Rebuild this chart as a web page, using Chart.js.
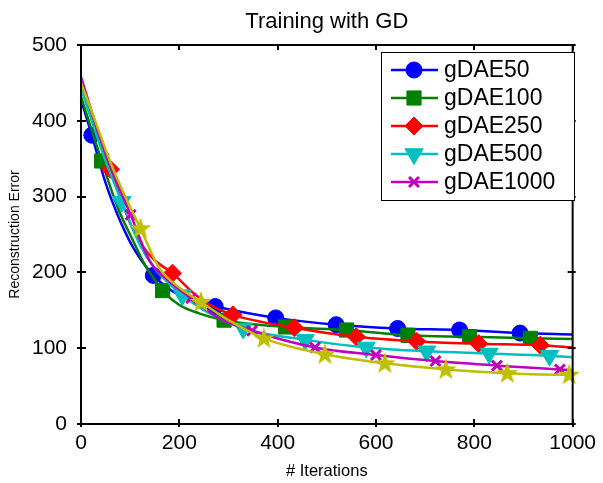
<!DOCTYPE html>
<html>
<head>
<meta charset="utf-8">
<title>Training with GD</title>
<script src="https://cdn.jsdelivr.net/npm/chart.js@4.4.1/dist/chart.umd.min.js"></script>
<style>
  html, body { margin: 0; padding: 0; background: #fff; }
</style>
</head>
<body>
<canvas id="gd-chart" width="603" height="483"></canvas>
<script>
const chartTitle = "Training with GD";
const xTicks = [0, 200, 400, 600, 800, 1000];
const yTicks = [0, 100, 200, 300, 400, 500];

// gDAE50
const blueX = [0, 22, 50, 75, 100, 125, 147, 175, 200, 230, 273, 396, 519, 644, 770, 893, 1000];
const blueY = [428, 381, 318, 275, 240, 214, 196, 180, 170, 162, 155, 140, 131, 126, 124, 120, 118];
const blueMarks = [22, 147, 273, 396, 519, 644, 770, 893];

// gDAE100
const greenX = [0, 42, 75, 105, 130, 150, 166, 200, 240, 291, 416, 540, 665, 790, 914, 1000];
const greenY = [432, 347, 285, 243, 210, 190, 176, 157, 146, 137, 128, 124, 117, 115, 113, 112];
const greenMarks = [42, 166, 291, 416, 540, 665, 790, 914];

// gDAE250
const redX = [0, 30, 60, 100, 125, 150, 186, 230, 260, 309, 434, 560, 683, 809, 934, 1000];
const redY = [445, 392, 336, 265, 235, 216, 199, 172, 158, 144, 127, 115, 109, 106, 104, 101];
const redMarks = [60, 186, 309, 434, 560, 683, 809, 934];

// gDAE500
const cyanX = [0, 40, 60, 83, 120, 150, 175, 206, 250, 280, 330, 456, 580, 703, 830, 953, 1000];
const cyanY = [443, 365, 330, 293, 236, 205, 188, 170, 150, 140, 126, 111, 101, 96, 93, 90, 88];
const cyanMarks = [83, 206, 330, 456, 580, 703, 830, 953];

// gDAE1000
const magentaX = [0, 30, 60, 101, 140, 180, 224, 280, 348, 476, 600, 721, 846, 974, 1000];
const magentaY = [458, 395, 340, 276, 215, 188, 166, 140, 123, 101, 91, 83, 77, 72, 71];
const magentaMarks = [101, 224, 348, 476, 600, 721, 846, 974];

// unlabelled yellow curve (not in legend)
const yellowX = [0, 30, 60, 90, 121, 160, 200, 244, 300, 372, 496, 618, 742, 867, 993, 1000];
const yellowY = [450, 398, 345, 300, 258, 205, 180, 161, 137, 113, 92, 80, 72, 67, 65, 65];
const yellowMarks = [121, 244, 372, 496, 618, 742, 867, 993];

const FONT = "'Liberation Sans', Arial, sans-serif";

function makeStar(color) {
  const c = document.createElement("canvas");
  c.width = 24;
  c.height = 24;
  const g = c.getContext("2d");
  g.beginPath();
  for (let i = 0; i < 10; i++) {
    const r = i % 2 === 0 ? 11.5 : 4.6;
    const a = -Math.PI / 2 + (i * Math.PI) / 5;
    g.lineTo(12 + r * Math.cos(a), 12.5 + r * Math.sin(a));
  }
  g.closePath();
  g.fillStyle = color;
  g.fill();
  return c;
}

function series(label, xs, ys, marks, color, style, radius, extra) {
  return Object.assign({
    label: label,
    data: xs.map((x, i) => ({ x: x, y: ys[i] })),
    borderColor: color,
    backgroundColor: color,
    borderWidth: 2.5,
    pointStyle: style,
    markRadius: radius,
    pointRadius: (ctx) => (ctx.raw && marks.includes(ctx.raw.x) ? radius : 0),
    pointHoverRadius: (ctx) => (ctx.raw && marks.includes(ctx.raw.x) ? radius : 0),
    pointBorderWidth: 1,
    cubicInterpolationMode: "monotone",
    clip: false,
  }, extra || {});
}

const datasets = [
  series("gDAE50", blueX, blueY, blueMarks, "#0000ff", "circle", 8, { order: 6 }),
  series("gDAE100", greenX, greenY, greenMarks, "#008000", "rect", 10, { order: 5 }),
  series("gDAE250", redX, redY, redMarks, "#ff0000", "rectRot", 9, { order: 4 }),
  series("gDAE500", cyanX, cyanY, cyanMarks, "#00bfbf", "triangle", 10.5, { order: 3, pointRotation: 180 }),
  series("gDAE1000", magentaX, magentaY, magentaMarks, "#bf00bf", "crossRot", 7, { order: 2, pointBorderWidth: 3 }),
  series("", yellowX, yellowY, yellowMarks, "#bfbf00", makeStar("#bfbf00"), 10, { order: 1 }),
];

// MATLAB style box, ticks and title centred on the axes
const boxTicks = {
  id: "boxTicks",
  afterDatasetsDraw(chart) {
    const { ctx, chartArea: a, scales } = chart;
    ctx.save();
    ctx.strokeStyle = "#000";
    ctx.lineWidth = 2;
    ctx.strokeRect(a.left, a.top, a.right - a.left, a.bottom - a.top);
    ctx.beginPath();
    xTicks.forEach((v) => {
      const px = Math.round(scales.x.getPixelForValue(v));
      ctx.moveTo(px, a.bottom + 3);
      ctx.lineTo(px, a.bottom - 5);
      ctx.moveTo(px, a.top);
      ctx.lineTo(px, a.top + 5);
    });
    yTicks.forEach((v) => {
      const py = Math.round(scales.y.getPixelForValue(v));
      ctx.moveTo(a.left - 4, py);
      ctx.lineTo(a.left + 5, py);
      ctx.moveTo(a.right + 3, py);
      ctx.lineTo(a.right - 5, py);
    });
    ctx.stroke();
    ctx.fillStyle = "#000";
    ctx.font = "22px " + FONT;
    ctx.textAlign = "center";
    ctx.textBaseline = "alphabetic";
    ctx.fillText(chartTitle, (a.left + a.right) / 2, 28);
    ctx.restore();
  },
};

// legend box: line with marker in the middle
const lineLegend = {
  id: "lineLegend",
  afterDraw(chart) {
    const { ctx } = chart;
    const left = 381, top = 52, w = 193, h = 148;
    ctx.save();
    ctx.fillStyle = "#fff";
    ctx.fillRect(left, top, w, h);
    ctx.strokeStyle = "#000";
    ctx.lineWidth = 1;
    ctx.strokeRect(left + 0.5, top + 0.5, w, h);
    ctx.font = "23px " + FONT;
    ctx.textBaseline = "middle";
    chart.data.datasets.slice(0, 5).forEach((ds, i) => {
      const y = 70 + i * 28;
      ctx.strokeStyle = ds.borderColor;
      ctx.lineWidth = 2.5;
      ctx.beginPath();
      ctx.moveTo(391, y);
      ctx.lineTo(438, y);
      ctx.stroke();
      ctx.fillStyle = ds.backgroundColor;
      ctx.lineWidth = ds.pointBorderWidth;
      Chart.helpers.drawPoint(ctx, {
        pointStyle: ds.pointStyle,
        radius: ds.markRadius,
        rotation: ds.pointRotation || 0,
        borderWidth: ds.pointBorderWidth,
      }, 414, y);
      ctx.fillStyle = "#000";
      ctx.fillText(ds.label, 444, y + 1);
    });
    ctx.restore();
  },
};

const tickFont = { family: FONT, size: 21 };

new Chart(document.getElementById("gd-chart"), {
  type: "line",
  data: { datasets: datasets },
  options: {
    responsive: false,
    animation: false,
    devicePixelRatio: 1,
    layout: { padding: { left: 0, right: 27, top: 45, bottom: 0 } },
    plugins: {
      legend: { display: false },
      tooltip: { enabled: false },
      title: { display: false },
    },
    scales: {
      x: {
        type: "linear",
        min: 0,
        max: 1000,
        grid: { display: false, drawTicks: false },
        border: { display: false },
        afterBuildTicks: (s) => { s.ticks = xTicks.map((v) => ({ value: v })); },
        afterFit: (s) => { s.height = 59; },
        ticks: { color: "#000", font: tickFont, padding: 7, maxRotation: 0, callback: (v) => String(v) },
        title: {
          display: true,
          text: "# Iterations",
          color: "#000",
          font: { family: FONT, size: 16.5 },
          padding: { top: 0, bottom: 2 },
        },
      },
      y: {
        type: "linear",
        min: 0,
        max: 500,
        grid: { display: false, drawTicks: false },
        border: { display: false },
        afterBuildTicks: (s) => { s.ticks = yTicks.map((v) => ({ value: v })); },
        afterFit: (s) => { s.width = 81; },
        ticks: { color: "#000", font: tickFont, padding: 14, callback: (v) => String(v) },
        title: {
          display: true,
          text: "Reconstruction Error",
          color: "#000",
          font: { family: FONT, size: 14 },
          padding: { top: 7, bottom: 0 },
        },
      },
    },
  },
  plugins: [boxTicks, lineLegend],
});
</script>
</body>
</html>
